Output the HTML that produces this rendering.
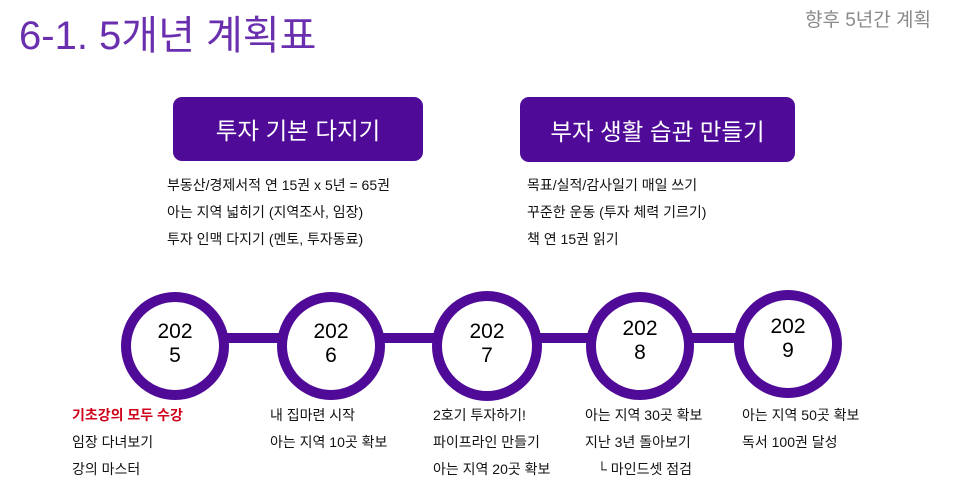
<!DOCTYPE html>
<html><head><meta charset="utf-8"><style>
body{margin:0;background:#fff;}
#c{position:relative;width:954px;height:496px;overflow:hidden;font-family:"Liberation Sans","Noto Sans CJK KR",sans-serif;color:#111;}
.a{position:absolute;white-space:nowrap;}
.box{position:absolute;background:#4f0a98;border-radius:9px;color:#fff;font-size:23.5px;display:flex;align-items:center;justify-content:center;}
.t{font-size:14px;line-height:27px;}
.y{position:absolute;width:80px;text-align:center;font-size:21px;line-height:24px;color:#000;}
</style></head><body><div id="c">
<div class="a" style="left:19px;top:3px;font-size:40px;color:#6a2fae;">6-1. 5개년 계획표</div>
<div class="a" style="left:805px;top:5px;font-size:19px;color:#8a8a8a;">향후 5년간 계획</div>
<div class="box" style="left:173px;top:97px;width:250px;height:64px;">투자 기본 다지기</div>
<div class="box" style="left:520px;top:97px;width:275px;height:65px;">부자 생활 습관 만들기</div>
<div class="a t" style="left:167px;top:172px;">부동산/경제서적 연 15권 x 5년 = 65권<br>아는 지역 넓히기 (지역조사, 임장)<br>투자 인맥 다지기 (멘토, 투자동료)</div>
<div class="a t" style="left:527px;top:172px;">목표/실적/감사일기 매일 쓰기<br>꾸준한 운동 (투자 체력 기르기)<br>책 연 15권 읽기</div>
<svg class="a" style="left:0;top:0" width="954" height="496">
<g fill="#4f0a98">
<rect x="225" y="333" width="60" height="10"/>
<rect x="381" y="333" width="60" height="10"/>
<rect x="537" y="333" width="55" height="10"/>
<rect x="690" y="333" width="50" height="10"/>
</g>
<g fill="#fff" stroke="#4f0a98" stroke-width="10">
<circle cx="175" cy="346" r="49"/>
<circle cx="331" cy="346" r="49"/>
<circle cx="487" cy="346" r="50"/>
<circle cx="640" cy="346" r="49"/>
<circle cx="788" cy="344" r="49"/>
</g>
</svg>
<div class="y" style="left:135px;top:320px;">202<br>5</div>
<div class="y" style="left:291px;top:320px;">202<br>6</div>
<div class="y" style="left:447px;top:320px;">202<br>7</div>
<div class="y" style="left:600px;top:317px;">202<br>8</div>
<div class="y" style="left:748px;top:315px;">202<br>9</div>
<div class="a t" style="left:72px;top:402px;"><span style="color:#d0021b;font-weight:bold;">기초강의 모두 수강</span><br>임장 다녀보기<br>강의 마스터</div>
<div class="a t" style="left:270px;top:402px;">내 집마련 시작<br>아는 지역 10곳 확보</div>
<div class="a t" style="left:433px;top:402px;">2호기 투자하기!<br>파이프라인 만들기<br>아는 지역 20곳 확보</div>
<div class="a t" style="left:585px;top:402px;">아는 지역 30곳 확보<br>지난 3년 돌아보기<br><span style="margin-left:12px">└ 마인드셋 점검</span></div>
<div class="a t" style="left:742px;top:402px;">아는 지역 50곳 확보<br>독서 100권 달성</div>
</div></body></html>
